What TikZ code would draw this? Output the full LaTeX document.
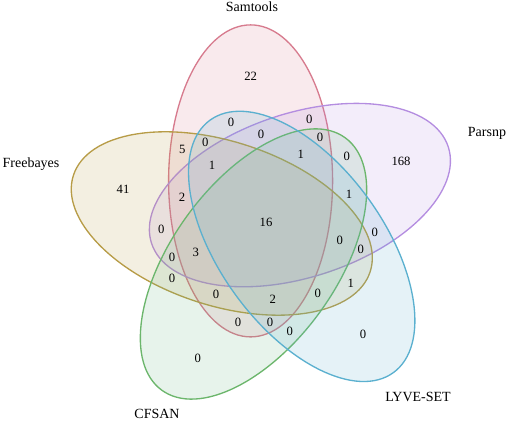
\documentclass[tikz,border=0pt]{standalone}
\usepackage{fontspec}
\setmainfont{Liberation Serif}
\definecolor{samcol}{HTML}{D77B8E}
\definecolor{parcol}{HTML}{B48DE0}
\definecolor{frecol}{HTML}{B79C47}
\definecolor{cfscol}{HTML}{6CB66C}
\definecolor{lyvcol}{HTML}{5BB0CF}
\begin{document}
\begin{tikzpicture}[x=0.75pt,y=0.75pt,
    set/.style={line width=1pt,fill opacity=0.16},
    num/.style={font=\fontsize{9.5}{11}\selectfont,inner sep=0pt},
    lab/.style={font=\fontsize{10.5}{12}\selectfont,inner sep=0pt}]
        \useasboundingbox (0,0) rectangle (510,423);

        % the five sets
        \draw[set,draw=samcol,fill=samcol] (250.6,242.1) ellipse [x radius=117pt,y radius=61.5pt,rotate=90];
        \draw[set,draw=parcol,fill=parcol] (299.9,227.9) ellipse [x radius=117pt,y radius=61.5pt,rotate=18];
        \draw[set,draw=frecol,fill=frecol] (221.8,199.5) ellipse [x radius=117pt,y radius=61.5pt,rotate=162];
        \draw[set,draw=cfscol,fill=cfscol!80!lyvcol] (253.5,159.0) ellipse [x radius=117pt,y radius=61.5pt,rotate=234];
        \draw[set,draw=lyvcol,fill=lyvcol] (301.7,176.6) ellipse [x radius=117pt,y radius=61.5pt,rotate=306];

        \node[lab] (sam) at (252,416) {Samtools};
        \node[lab] (par) at (487,290) {Parsnp};
        \node[lab] (fre) at (31,259) {Freebayes};
        \node[lab] (cfs) at (157,9) {CFSAN};
        \node[lab] (lyv) at (418,26) {LYVE-SET};

        % counts
        \node[num] (n1) at (250.7,347) {22};
        \node[num] (n2) at (231,300.7) {0};
        \node[num] (n3) at (309.3,304) {0};
        \node[num] (n4) at (261,289) {0};
        \node[num] (n5) at (205.3,280.7) {0};
        \node[num] (n6) at (320,285.7) {0};
        \node[num] (n7) at (182.3,273.3) {5};
        \node[num] (n8) at (300.7,268.7) {1};
        \node[num] (n9) at (346.7,266.7) {0};
        \node[num] (n10) at (401,261.3) {168};
        \node[num] (n11) at (212,257.3) {1};
        \node[num] (n12) at (123,234) {41};
        \node[num] (n13) at (182,225.3) {2};
        \node[num] (n14) at (349,228.7) {1};
        \node[num] (n15) at (266,200.7) {16};
        \node[num] (n16) at (161.3,193.7) {0};
        \node[num] (n17) at (374.7,190.7) {0};
        \node[num] (n18) at (339.7,182.3) {0};
        \node[num] (n19) at (360.7,173.7) {0};
        \node[num] (n20) at (172,165.3) {0};
        \node[num] (n21) at (195.7,170.3) {3};
        \node[num] (n22) at (172,144.3) {0};
        \node[num] (n23) at (350.7,139.7) {1};
        \node[num] (n24) at (216,129) {0};
        \node[num] (n25) at (272.7,123.7) {2};
        \node[num] (n26) at (317.7,129.7) {0};
        \node[num] (n27) at (238,100.7) {0};
        \node[num] (n28) at (270,100.7) {0};
        \node[num] (n29) at (289.7,92) {0};
        \node[num] (n30) at (363,88.7) {0};
        \node[num] (n31) at (197.7,64.7) {0};
\end{tikzpicture}
\end{document}
